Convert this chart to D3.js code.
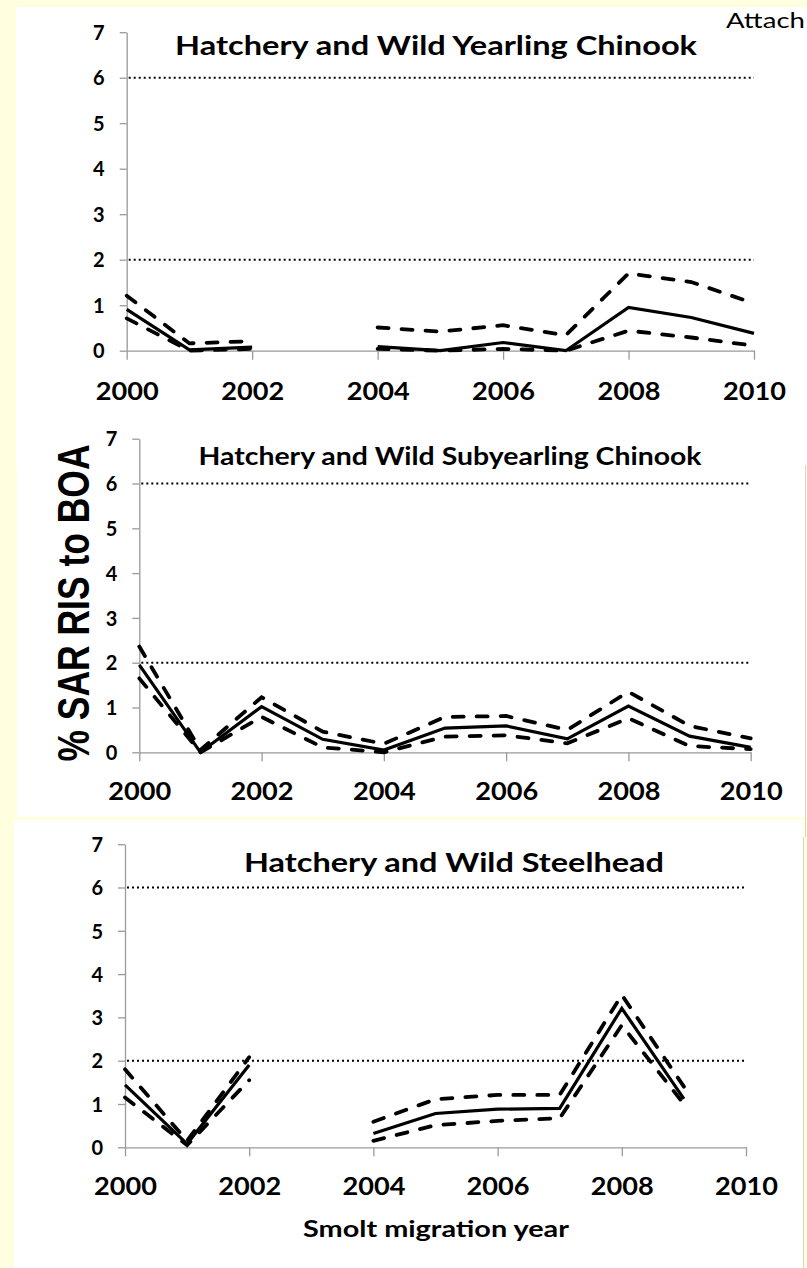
<!DOCTYPE html>
<html><head><meta charset="utf-8">
<script src="https://cdn.jsdelivr.net/npm/d3@7"></script>
<style>html,body{margin:0;padding:0;background:#FFFFE0;} svg{display:block}</style>
</head><body><svg id="c" width="807" height="1268"></svg>
<script>
// ---------------- data ----------------
const years = [2000, 2001, 2002, 2003, 2004, 2005, 2006, 2007, 2008, 2009, 2010];
const xTickYears = [2000, 2002, 2004, 2006, 2008, 2010];
const yTickValues = [0, 1, 2, 3, 4, 5, 6, 7];
const referenceLevels = [2, 6];
const panelTitles = ["Hatchery and Wild Yearling Chinook", "Hatchery and Wild Subyearling Chinook", "Hatchery and Wild Steelhead"];
const yAxisTitle = "% SAR RIS to BOA";
const xAxisTitle = "Smolt migration year";
const headerText = "Attach";

// % SAR estimate and its upper / lower interval (null = no estimate)
const yearlingMid   = [0.91, 0.02, 0.08, null, 0.09, 0.00, 0.18, 0.00, 0.95, 0.73, 0.38];
const yearlingUpper = [1.21, 0.16, 0.21, null, 0.51, 0.42, 0.56, 0.34, 1.70, 1.51, 1.04];
const yearlingLower = [0.71, 0.00, 0.04, null, 0.04, 0.00, 0.04, 0.00, 0.44, 0.29, 0.11];

const subyearlingMid   = [1.95, 0.00, 1.02, 0.29, 0.05, 0.54, 0.59, 0.30, 1.03, 0.36, 0.11];
const subyearlingUpper = [2.36, 0.05, 1.23, 0.46, 0.19, 0.79, 0.81, 0.50, 1.35, 0.59, 0.31];
const subyearlingLower = [1.65, 0.00, 0.79, 0.11, 0.00, 0.35, 0.38, 0.20, 0.76, 0.14, 0.07];

const steelheadMid   = [1.44, 0.08, 1.90, null, 0.32, 0.78, 0.88, 0.90, 3.21, 1.12, null];
const steelheadUpper = [1.80, 0.15, 2.08, null, 0.59, 1.11, 1.21, 1.21, 3.52, 1.40, null];
const steelheadLower = [1.15, 0.05, 1.55, null, 0.15, 0.51, 0.61, 0.67, 2.82, 1.00, null];

// ---------------- layout ----------------
const FONT = "Lato, 'Open Sans', sans-serif";
const svg = d3.select("#c");
svg.append("rect").attr("width", 807).attr("height", 1268).attr("fill", "#FFFFE0");

// pasted-picture backgrounds
svg.append("rect").attr("x", 16).attr("y", 7).attr("width", 791).attr("height", 463).attr("fill", "#fff");
svg.append("rect").attr("x", 17).attr("y", 465).attr("width", 788).attr("height", 352).attr("fill", "#fff");
svg.append("line").attr("x1", 805.5).attr("x2", 805.5).attr("y1", 465).attr("y2", 837).attr("stroke", "#d6d6c4").attr("stroke-width", 1);
svg.append("rect").attr("x", 14).attr("y", 820).attr("width", 789).attr("height", 448).attr("fill", "#fff");
svg.append("line").attr("x1", 803.5).attr("x2", 803.5).attr("y1", 837).attr("y2", 1268).attr("stroke", "#d6d6c4").attr("stroke-width", 1);

const panels = [
  { title: panelTitles[0], mid: yearlingMid, upper: yearlingUpper, lower: yearlingLower,
    x0: 126.7, x1: 754, y0: 350.7, unit: 45.5,
    titleX: 436, titleY: 55, titleSize: 27.5, titleLen: 522, xLabY: 400 },
  { title: panelTitles[1], mid: subyearlingMid, upper: subyearlingUpper, lower: subyearlingLower,
    x0: 139.3, x1: 750.7, y0: 752.3, unit: 44.8,
    titleX: 450, titleY: 465, titleSize: 24, titleLen: 503, xLabY: 800 },
  { title: panelTitles[2], mid: steelheadMid, upper: steelheadUpper, lower: steelheadLower,
    x0: 125, x1: 746, y0: 1147.3, unit: 43.3,
    titleX: 454, titleY: 872, titleSize: 26.5, titleLen: 420, xLabY: 1195 }
];

function drawPanel(p) {
  const x = d3.scaleLinear().domain([2000, 2010]).range([p.x0, p.x1]);
  const y = d3.scaleLinear().domain([0, 7]).range([p.y0, p.y0 - 7 * p.unit]);
  const g = svg.append("g");

  // reference dotted lines
  g.selectAll(".ref").data(referenceLevels).join("line")
    .attr("x1", x(2000) + 2).attr("x2", x(2010))
    .attr("y1", d => y(d)).attr("y2", d => y(d))
    .attr("stroke", "#000").attr("stroke-width", 2).attr("stroke-dasharray", "2,3");

  // y axis
  const gy = g.append("g").attr("transform", `translate(${x(2000)},0)`)
    .call(d3.axisLeft(y).tickValues(yTickValues).tickSize(7).tickSizeOuter(0).tickPadding(15).tickFormat(d3.format("d")));
  // x axis
  const gx = g.append("g").attr("transform", `translate(0,${y(0)})`)
    .call(d3.axisBottom(x).tickValues(xTickYears).tickSize(9).tickSizeOuter(0).tickFormat(d3.format("d")));
  [gy, gx].forEach(a => {
    a.select(".domain").attr("stroke", "#9a9a9a").attr("stroke-width", 1.3);
    a.selectAll(".tick line").attr("stroke", "#9a9a9a").attr("stroke-width", 1.3);
    a.selectAll("text").attr("fill", "#000").attr("font-family", FONT).attr("font-weight", 700);
  });
  gy.selectAll("text").attr("font-size", 20).attr("dy", "0.36em");
  gx.selectAll("text").attr("font-size", 24).attr("dy", null).attr("y", p.xLabY - p.y0)
    .attr("textLength", 63).attr("lengthAdjust", "spacingAndGlyphs");

  // title
  g.append("text").attr("x", p.titleX).attr("y", p.titleY).attr("text-anchor", "middle")
    .attr("font-family", FONT).attr("font-weight", 700).attr("font-size", p.titleSize)
    .attr("textLength", p.titleLen).attr("lengthAdjust", "spacingAndGlyphs").text(p.title);

  // series
  const line = d3.line().defined(d => d.v != null).x(d => x(d.year)).y(d => y(d.v));
  const toPts = arr => years.map((yr, i) => ({ year: yr, v: arr[i] }));
  [p.upper, p.lower].forEach(arr => {
    g.append("path").datum(toPts(arr)).attr("d", line).attr("fill", "none")
      .attr("stroke", "#000").attr("stroke-width", 3.8).attr("stroke-linecap", "round")
      .attr("stroke-dasharray", "11,13");
  });
  g.append("path").datum(toPts(p.mid)).attr("d", line).attr("fill", "none")
    .attr("stroke", "#000").attr("stroke-width", 3.2).attr("stroke-linejoin", "miter");
}
panels.forEach(drawPanel);

// y axis title (rotated)
svg.append("text").attr("transform", "translate(89,603) rotate(-90)").attr("text-anchor", "middle")
  .attr("font-family", "'Liberation Sans', Arial, sans-serif").attr("font-weight", 700).attr("font-size", 44)
  .attr("textLength", 317).attr("lengthAdjust", "spacingAndGlyphs").text(yAxisTitle);

// x axis title
svg.append("text").attr("x", 436).attr("y", 1237).attr("text-anchor", "middle")
  .attr("font-family", FONT).attr("font-weight", 700).attr("font-size", 22)
  .attr("textLength", 266).attr("lengthAdjust", "spacingAndGlyphs").text(xAxisTitle);

// header text at top right (cut at the page edge in the source)
svg.append("text").attr("x", 726).attr("y", 28)
  .attr("font-family", FONT).attr("font-weight", 400).attr("font-size", 22)
  .attr("textLength", 79).attr("lengthAdjust", "spacingAndGlyphs").text(headerText);
</script>
</body></html>
